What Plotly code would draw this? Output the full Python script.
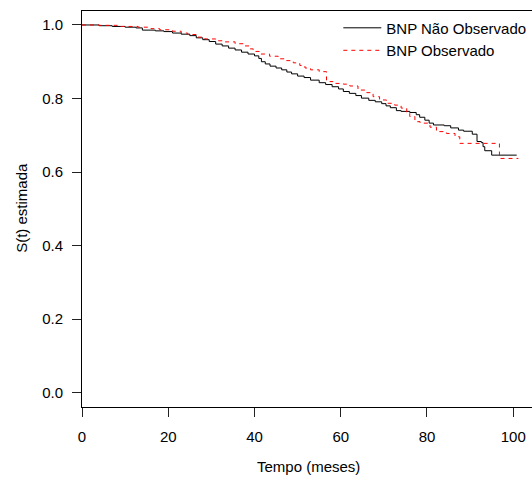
import plotly.graph_objects as go

# Kaplan-Meier estimates
tempo_nao = [0, 4, 7, 10, 12.5, 14, 17, 19, 21, 23, 25, 26.5, 28, 29.5, 31, 32.5, 34, 35.5, 37, 38.5,
             40, 41, 41.6, 42.5, 43.6, 45, 46.3, 47.5, 48.6, 50, 51.5, 53, 55, 56.5, 58, 59.5, 60.6,
             62, 63.5, 64.8, 66.5, 68, 69.5, 70.5, 71.5, 72.9, 74, 76, 77.5, 78.3, 79.5, 80.5, 81.5,
             84, 85.5, 87.3, 88.5, 90.5, 91.6, 92.6, 93, 93.4, 95, 100.8]
surv_nao = [1.000, 0.998, 0.996, 0.994, 0.992, 0.986, 0.984, 0.982, 0.978, 0.975, 0.971, 0.965, 0.960,
            0.955, 0.948, 0.943, 0.937, 0.932, 0.926, 0.921, 0.916, 0.909, 0.900, 0.894, 0.888, 0.883,
            0.878, 0.872, 0.867, 0.861, 0.857, 0.850, 0.843, 0.838, 0.832, 0.826, 0.819, 0.814, 0.808,
            0.801, 0.795, 0.791, 0.786, 0.780, 0.775, 0.767, 0.765, 0.762, 0.756, 0.749, 0.741, 0.733,
            0.728, 0.726, 0.720, 0.714, 0.711, 0.703, 0.683, 0.680, 0.669, 0.658, 0.646, 0.646]

tempo_obs = [0, 4, 8.5, 13, 16, 18, 21, 23, 24.5, 26.5, 28.5, 31, 33, 35.5, 37.5, 38.8, 39.7, 41.5,
             43.5, 45.5, 47, 49, 50.5, 51.7, 53, 55, 56.7, 57.5, 58.2, 60.6, 62.1, 64, 66, 67.5, 69,
             70.6, 72.5, 74, 75.3, 76, 77.2, 78.4, 80.7, 82.2, 84.5, 86.5, 87.6, 96.8, 101.2]
surv_obs = [1.000, 0.999, 0.996, 0.994, 0.990, 0.987, 0.983, 0.978, 0.974, 0.967, 0.962, 0.957, 0.954,
            0.949, 0.943, 0.935, 0.928, 0.921, 0.915, 0.908, 0.903, 0.897, 0.890, 0.883, 0.878, 0.873,
            0.850, 0.846, 0.841, 0.839, 0.834, 0.823, 0.816, 0.805, 0.796, 0.787, 0.782, 0.774, 0.762,
            0.751, 0.737, 0.733, 0.722, 0.710, 0.705, 0.696, 0.678, 0.637, 0.637]

x_ticks = [0, 20, 40, 60, 80, 100]
y_ticks = [0.0, 0.2, 0.4, 0.6, 0.8, 1.0]
y_tick_labels = ["0.0", "0.2", "0.4", "0.6", "0.8", "1.0"]

FONT = "Liberation Sans, Arial, Helvetica, sans-serif"
FS = 15

fig = go.Figure()
fig.add_trace(go.Scatter(x=tempo_nao, y=surv_nao, mode="lines", line_shape="hv",
                         line=dict(color="black", width=1), name="BNP Não Observado"))
fig.add_trace(go.Scatter(x=tempo_obs, y=surv_obs, mode="lines", line_shape="hv",
                         line=dict(color="#FF0000", width=1, dash="4px,4px"), name="BNP Observado"))

fig.update_layout(
    width=532, height=481,
    margin=dict(l=82, r=0, t=11, b=74),
    paper_bgcolor="white", plot_bgcolor="white",
    font=dict(family=FONT, size=FS, color="black"),
    showlegend=True,
    legend=dict(x=(338.3 - 82) / 450, xanchor="left", y=0.9986, yanchor="top",
                itemwidth=38, bgcolor="rgba(0,0,0,0)", borderwidth=0, tracegroupgap=0,
                font=dict(family=FONT, size=FS, color="black")),
    xaxis=dict(range=[0, 104.35], tickvals=x_ticks, ticks="outside", ticklen=9, tickwidth=1,
               tickcolor="#222", showline=True, linecolor="black", linewidth=1, mirror=True,
               showgrid=False, zeroline=False, ticklabelstandoff=7),
    yaxis=dict(range=[-0.039, 1.038], tickvals=y_ticks, ticktext=y_tick_labels, ticks="outside",
               ticklen=9, tickwidth=1, tickcolor="#222", showline=True, linecolor="black",
               linewidth=1, showgrid=False, zeroline=False, ticklabelstandoff=6),
    annotations=[
        dict(text="S(t) estimada", xref="paper", yref="paper", x=(21.5 - 82) / 450, y=(406.7 - 208) / 396,
             showarrow=False, textangle=-90, font=dict(family=FONT, size=FS, color="black"),
             xanchor="center", yanchor="middle"),
        dict(text="Tempo (meses)", xref="paper", yref="paper", x=(308 - 82) / 450, y=(406.7 - 466) / 396,
             showarrow=False, font=dict(family=FONT, size=FS, color="black"),
             xanchor="center", yanchor="middle"),
    ],
)

fig.write_html("out.html")
